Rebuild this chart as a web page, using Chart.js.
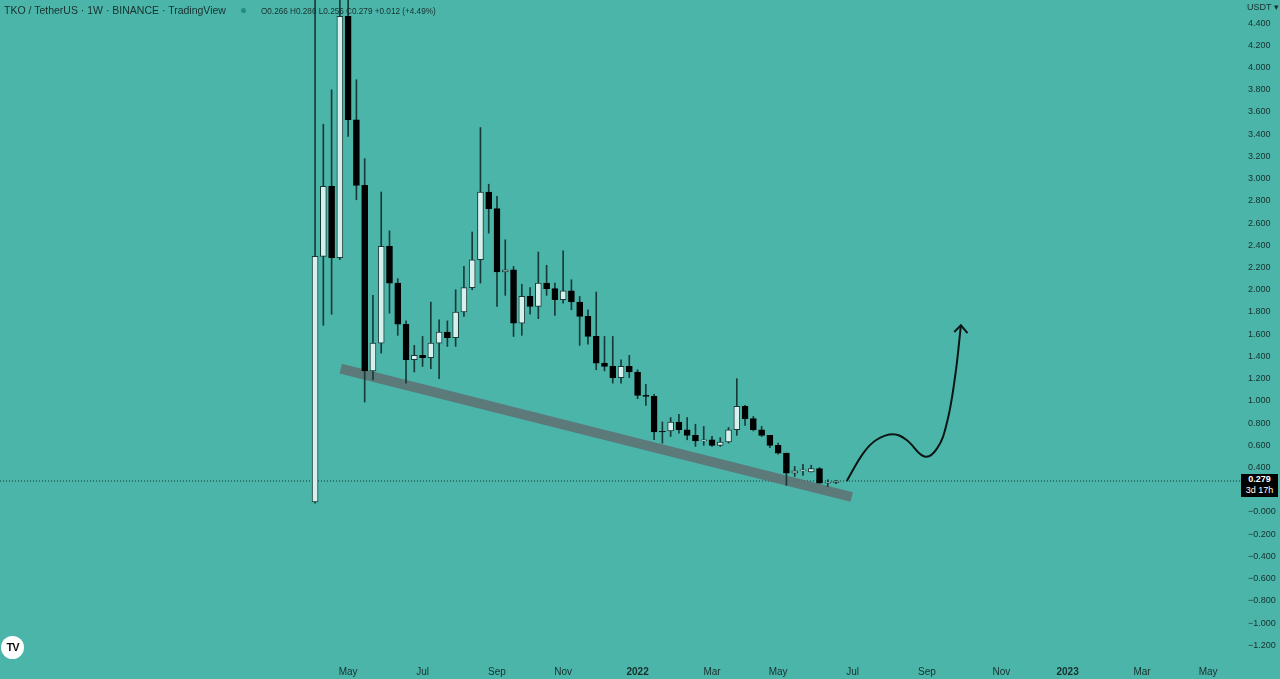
<!DOCTYPE html>
<html>
<head>
<meta charset="utf-8">
<script src="https://cdn.jsdelivr.net/npm/chart.js@4.4.0/dist/chart.umd.min.js"></script>
<style>
  html, body { margin: 0; padding: 0; background: #4cb5aa; }
  #wrap { position: relative; width: 1280px; height: 679px; overflow: hidden; background: #4cb5aa; font-family: "Liberation Sans", Arial, sans-serif; }
  #header { position: absolute; left: 4px; top: 4px; color: #17302d; font-size: 10.5px; white-space: nowrap; }
  #header .dot { display: inline-block; width: 5px; height: 5px; border-radius: 50%; background: #1f8f7f; margin: 0 15px 1px 15px; }
  #header .ohlc { font-size: 8.2px; }
  #unit { position: absolute; left: 1247px; top: 2px; font-size: 9px; color: #17302d; }
  #badge { position: absolute; left: 1241px; top: 474px; width: 37px; height: 23px; background: #000; color: #fff; font-size: 9px; line-height: 11px; text-align: center; }
  #logo { position: absolute; left: 1px; top: 636px; width: 23px; height: 23px; border-radius: 50%; background: #fff; color: #111; font-weight: bold; font-size: 11px; line-height: 23px; text-align: center; letter-spacing: -1px; }
</style>
</head>
<body>
<div id="wrap">
  <canvas id="chartTko"></canvas>
  <div id="header">TKO / TetherUS · 1W · BINANCE · TradingView<span class="dot"></span><span class="ohlc">O0.266 H0.286 L0.256 C0.279 +0.012 (+4.49%)</span></div>
  <div id="unit">USDT ▾</div>
  <div id="badge"><b>0.279</b><br>3d 17h</div>
  <div id="logo">TV</div>
</div>
<script>
// Weekly candles, first bar week of 2021-04-05
const firstBar = "2021-04-05";
const opens  = [0.09, 2.30, 2.93, 2.29, 4.46, 3.53, 2.94, 1.27, 1.52, 2.39, 2.06, 1.69, 1.37, 1.41, 1.39, 1.52, 1.62, 1.57, 1.80, 2.02, 2.27, 2.88, 2.73, 2.16, 2.18, 1.70, 1.94, 1.85, 2.06, 2.01, 1.91, 1.99, 1.89, 1.76, 1.58, 1.34, 1.31, 1.21, 1.31, 1.26, 1.05, 1.04, 0.725, 0.73, 0.81, 0.74, 0.69, 0.64, 0.65, 0.60, 0.63, 0.74, 0.95, 0.84, 0.74, 0.69, 0.60, 0.53, 0.35, 0.37, 0.36, 0.39, 0.26, 0.266];
const highs  = [4.80, 3.49, 3.80, 4.90, 4.75, 3.89, 3.18, 1.95, 2.88, 2.53, 2.10, 1.72, 1.50, 1.58, 1.89, 1.73, 1.72, 2.00, 2.21, 2.52, 3.46, 2.95, 2.84, 2.45, 2.21, 2.05, 2.02, 2.34, 2.22, 2.06, 2.35, 2.09, 1.94, 1.82, 1.98, 1.58, 1.58, 1.37, 1.41, 1.28, 1.15, 1.06, 0.81, 0.85, 0.88, 0.85, 0.79, 0.77, 0.68, 0.67, 0.76, 1.20, 0.96, 0.86, 0.77, 0.69, 0.62, 0.53, 0.41, 0.43, 0.42, 0.40, 0.29, 0.286];
const lows   = [0.08, 1.68, 1.78, 2.27, 3.38, 2.81, 0.99, 1.19, 1.43, 1.79, 1.59, 1.16, 1.26, 1.31, 1.29, 1.20, 1.49, 1.49, 1.76, 2.00, 2.06, 2.51, 1.85, 1.95, 1.58, 1.59, 1.78, 1.74, 1.95, 1.77, 1.88, 1.82, 1.50, 1.51, 1.28, 1.27, 1.16, 1.16, 1.21, 1.02, 0.96, 0.65, 0.62, 0.68, 0.71, 0.65, 0.59, 0.60, 0.59, 0.59, 0.62, 0.69, 0.78, 0.73, 0.68, 0.58, 0.52, 0.24, 0.32, 0.33, 0.36, 0.26, 0.23, 0.256];
const closes = [2.30, 2.93, 2.29, 4.46, 3.53, 2.94, 1.27, 1.52, 2.39, 2.06, 1.69, 1.37, 1.41, 1.39, 1.52, 1.62, 1.57, 1.80, 2.02, 2.27, 2.88, 2.73, 2.16, 2.18, 1.70, 1.94, 1.85, 2.06, 2.01, 1.91, 1.99, 1.89, 1.76, 1.58, 1.34, 1.31, 1.21, 1.31, 1.26, 1.05, 1.04, 0.72, 0.72, 0.81, 0.74, 0.69, 0.64, 0.65, 0.60, 0.63, 0.74, 0.95, 0.84, 0.74, 0.69, 0.60, 0.53, 0.35, 0.37, 0.38, 0.39, 0.26, 0.266, 0.279];
const lastPrice = 0.279;

// x-axis ticks (bar dates) and labels
const tickDates  = ["2021-05-03", "2021-07-05", "2021-09-06", "2021-11-01", "2022-01-03", "2022-03-07", "2022-05-02", "2022-07-04", "2022-09-05", "2022-11-07", "2023-01-02", "2023-03-06", "2023-05-01"];
const tickLabels = ["May", "Jul", "Sep", "Nov", "2022", "Mar", "May", "Jul", "Sep", "Nov", "2023", "Mar", "May"];

// drawings: support line and projection arrow (week index, price)
const supportLine = [[3.1, 1.29], [64.9, 0.135]];
const arrowPath = [[64.3, 0.279], [66.3, 0.53], [67.9, 0.65], [69.9, 0.70], [71.5, 0.65], [73.7, 0.50], [75.2, 0.57], [76.4, 0.80], [77.4, 1.22], [78.1, 1.68]];
const arrowHead = [[77.3, 1.62], [78.1, 1.68], [78.9, 1.61]];

const xMin = -38.1, xMax = 111.85;
const yMin = -1.332, yMax = 4.608;

weekIndex = (d) => Math.round((Date.parse(d) - Date.parse(firstBar)) / (7 * 86400000));

const wickData = opens.map((o, i) => ({ x: i, y: [lows[i], highs[i]] }));
const bodyData = opens.map((o, i) => ({ x: i, y: [o, closes[i]] }));
const isUp = opens.map((o, i) => closes[i] > o);

const yTicks = [];
for (let k = -6; k <= 22; k++) yTicks.push(Math.round(k * 2) / 10);

const xy = (arr) => arr.map(p => ({ x: p[0], y: p[1] }));

const config = {
    type: "bar",
    data: {
        datasets: [
            {
                type: "line",
                data: [{ x: xMin, y: lastPrice }, { x: xMax, y: lastPrice }],
                borderColor: "#16302c",
                borderWidth: 1,
                borderDash: [1, 2],
                pointRadius: 0,
                order: 5,
            },
            {
                type: "line",
                data: xy(supportLine),
                borderColor: "rgba(96, 112, 114, 0.85)",
                borderWidth: 10,
                borderCapStyle: "butt",
                pointRadius: 0,
                order: 4,
            },
            {
                data: wickData,
                backgroundColor: "#173a36",
                barThickness: 1,
                grouped: false,
                order: 3,
            },
            {
                data: bodyData,
                backgroundColor: isUp.map(u => u ? "#d6f1ed" : "#000000"),
                borderColor: isUp.map(u => u ? "#1b3a36" : "#000000"),
                borderWidth: 1,
                borderSkipped: false,
                barThickness: 6,
                grouped: false,
                order: 2,
            },
            {
                type: "line",
                data: xy(arrowPath),
                borderColor: "#0d1614",
                borderWidth: 2,
                tension: 0.4,
                pointRadius: 0,
                order: 1,
            },
            {
                type: "line",
                data: xy(arrowHead),
                borderColor: "#0d1614",
                borderWidth: 2,
                pointRadius: 0,
                order: 1,
            },
        ],
    },
    options: {
        responsive: true,
        maintainAspectRatio: false,
        animation: false,
        layout: { padding: 0 },
        plugins: {
            legend: { display: false },
            tooltip: { enabled: false },
        },
        scales: {
            x: {
                type: "linear",
                offset: false,
                min: xMin,
                max: xMax,
                grid: { display: false, drawTicks: false, offset: false },
                border: { display: false },
                afterBuildTicks: (scale) => {
                    scale.ticks = tickDates.map(d => ({ value: weekIndex(d) }));
                },
                afterFit: (scale) => {
                    scale.height = 19;
                    scale.paddingLeft = 0;
                    scale.paddingRight = 0;
                },
                ticks: {
                    padding: 6,
                    maxRotation: 0,
                    autoSkip: false,
                    color: "#17302d",
                    font: (ctx) => ({
                        family: "Liberation Sans",
                        size: 10,
                        weight: ctx.index === 4 || ctx.index === 10 ? "bold" : "normal",
                    }),
                    callback: (value, index) => tickLabels[index],
                },
            },
            y: {
                position: "right",
                min: yMin,
                max: yMax,
                grid: { display: false, drawTicks: false },
                border: { display: false },
                afterBuildTicks: (scale) => {
                    scale.ticks = yTicks.map(v => ({ value: v }));
                },
                afterFit: (scale) => {
                    scale.width = 40;
                    scale.paddingTop = 0;
                    scale.paddingBottom = 0;
                },
                ticks: {
                    padding: 8,
                    crossAlign: "near",
                    color: "#17302d",
                    font: { family: "Liberation Sans", size: 9 },
                    callback: (value) => {
                        if (Math.abs(value) < 1e-9) return "\u22120.000";
                        return (value < 0 ? "\u2212" : "") + Math.abs(value).toFixed(3);
                    },
                },
            },
        },
    },
};

let ctx = document.getElementById("chartTko");
let chart = new Chart(ctx, config);
</script>
</body>
</html>
